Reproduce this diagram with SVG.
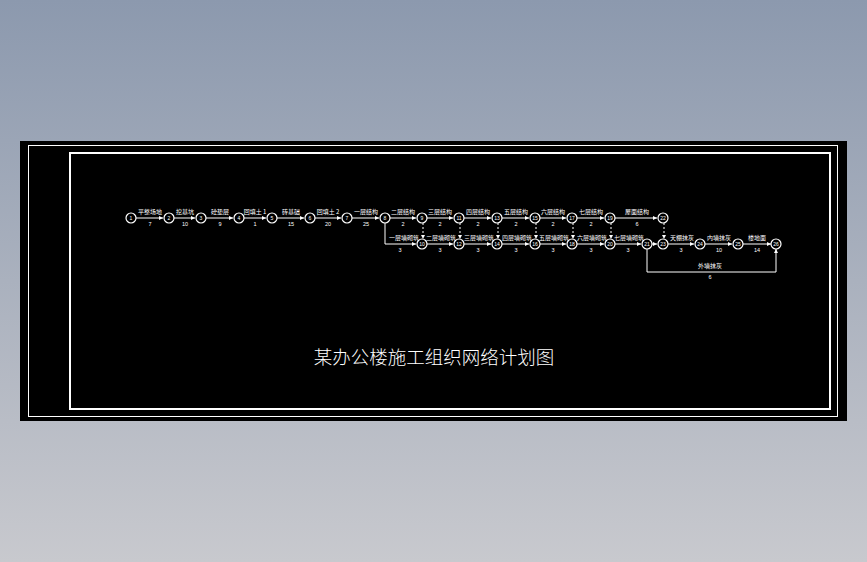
<svg xmlns="http://www.w3.org/2000/svg" width="867" height="562" viewBox="0 0 867 562">
<defs>
<linearGradient id="bg" x1="0" y1="0" x2="0" y2="1">
<stop offset="0" stop-color="#8c99ae"/>
<stop offset="1" stop-color="#c8c9ce"/>
</linearGradient>
<marker id="ar" viewBox="0 0 6 6" refX="6" refY="3" markerWidth="4" markerHeight="4" orient="auto" markerUnits="userSpaceOnUse">
<path d="M0,0 L6,3 L0,6 z" fill="#fff"/>
</marker>
<style>
.n circle{fill:#000;stroke:#fff;stroke-width:1.2}
.n text{fill:#fff;font-family:"Liberation Sans",sans-serif;font-size:5px;text-anchor:middle}
.c line,.c path{stroke:#fff;stroke-width:1;fill:none}
.c .d{stroke-dasharray:2,2}
.l{fill:#fff;font-family:"Noto Sans CJK SC",sans-serif;font-size:6px;text-anchor:middle}
.v{fill:#fff;font-family:"Liberation Sans",sans-serif;font-size:5.5px;text-anchor:middle}
</style>
</defs>
<rect width="867" height="562" fill="url(#bg)"/>
<rect x="20" y="141" width="827" height="280" fill="#000"/>
<rect x="28.5" y="145.5" width="809" height="271" fill="none" stroke="#fff" stroke-width="1"/>
<rect x="70" y="153" width="760" height="256" fill="none" stroke="#fff" stroke-width="2"/>
<text x="434" y="364" fill="#fff" font-family="Noto Sans CJK SC, sans-serif" font-size="18.5" font-weight="300" text-anchor="middle">某办公楼施工组织网络计划图</text>

<g id="connectors" class="c">
<line x1="136" y1="218" x2="163" y2="218" marker-end="url(#ar)"/>
<line x1="174" y1="218" x2="195" y2="218" marker-end="url(#ar)"/>
<line x1="206" y1="218" x2="233" y2="218" marker-end="url(#ar)"/>
<line x1="244" y1="218" x2="266" y2="218" marker-end="url(#ar)"/>
<line x1="277" y1="218" x2="304" y2="218" marker-end="url(#ar)"/>
<line x1="315" y1="218" x2="341" y2="218" marker-end="url(#ar)"/>
<line x1="352" y1="218" x2="379" y2="218" marker-end="url(#ar)"/>
<line x1="390" y1="218" x2="416" y2="218" marker-end="url(#ar)"/>
<line x1="427" y1="218" x2="453" y2="218" marker-end="url(#ar)"/>
<line x1="464" y1="218" x2="491" y2="218" marker-end="url(#ar)"/>
<line x1="502" y1="218" x2="529" y2="218" marker-end="url(#ar)"/>
<line x1="540" y1="218" x2="566" y2="218" marker-end="url(#ar)"/>
<line x1="577" y1="218" x2="604" y2="218" marker-end="url(#ar)"/>
<line x1="615" y1="218" x2="657" y2="218" marker-end="url(#ar)"/>
<path d="M385,223 V244 H416" marker-end="url(#ar)"/>
<line x1="427" y1="244" x2="453" y2="244" marker-end="url(#ar)"/>
<line x1="464" y1="244" x2="491" y2="244" marker-end="url(#ar)"/>
<line x1="502" y1="244" x2="529" y2="244" marker-end="url(#ar)"/>
<line x1="540" y1="244" x2="566" y2="244" marker-end="url(#ar)"/>
<line x1="577" y1="244" x2="604" y2="244" marker-end="url(#ar)"/>
<line x1="615" y1="244" x2="641" y2="244" marker-end="url(#ar)"/>
<line x1="652" y1="244" x2="657" y2="244" marker-end="url(#ar)"/>
<line x1="668" y1="244" x2="694" y2="244" marker-end="url(#ar)"/>
<line x1="705" y1="244" x2="732" y2="244" marker-end="url(#ar)"/>
<line x1="743" y1="244" x2="771" y2="244" marker-end="url(#ar)"/>
<path d="M647,249 V272 H776 V249" marker-end="url(#ar)"/>
<line class="d" x1="423" y1="223" x2="423" y2="239" marker-end="url(#ar)"/>
<line class="d" x1="460" y1="223" x2="460" y2="239" marker-end="url(#ar)"/>
<line class="d" x1="498" y1="223" x2="498" y2="239" marker-end="url(#ar)"/>
<line class="d" x1="536" y1="223" x2="536" y2="239" marker-end="url(#ar)"/>
<line class="d" x1="573" y1="223" x2="573" y2="239" marker-end="url(#ar)"/>
<line class="d" x1="611" y1="223" x2="611" y2="239" marker-end="url(#ar)"/>
<line class="d" x1="664" y1="223" x2="664" y2="239" marker-end="url(#ar)"/>
</g>

<g id="labels">
<text class="l" x="150" y="214">平整场地</text><text class="v" x="150" y="226">7</text>
<text class="l" x="185" y="214">挖基坑</text><text class="v" x="185" y="226">10</text>
<text class="l" x="220" y="214">砼垫层</text><text class="v" x="220" y="226">9</text>
<text class="l" x="255" y="214">回填土 1</text><text class="v" x="255" y="226">1</text>
<text class="l" x="291" y="214">砖基础</text><text class="v" x="291" y="226">15</text>
<text class="l" x="328" y="214">回填土 2</text><text class="v" x="328" y="226">20</text>
<text class="l" x="366" y="214">一层结构</text><text class="v" x="366" y="226">25</text>
<text class="l" x="403" y="214">二层结构</text><text class="v" x="403" y="226">2</text>
<text class="l" x="440" y="214">三层结构</text><text class="v" x="440" y="226">2</text>
<text class="l" x="478" y="214">四层结构</text><text class="v" x="478" y="226">2</text>
<text class="l" x="516" y="214">五层结构</text><text class="v" x="516" y="226">2</text>
<text class="l" x="553" y="214">六层结构</text><text class="v" x="553" y="226">2</text>
<text class="l" x="591" y="214">七层结构</text><text class="v" x="591" y="226">2</text>
<text class="l" x="637" y="214">屋面结构</text><text class="v" x="637" y="226">6</text>
<text class="l" x="404" y="240">一层墙砌筑</text><text class="v" x="400" y="252">3</text>
<text class="l" x="441" y="240">二层墙砌筑</text><text class="v" x="440" y="252">3</text>
<text class="l" x="479" y="240">三层墙砌筑</text><text class="v" x="478" y="252">3</text>
<text class="l" x="517" y="240">四层墙砌筑</text><text class="v" x="516" y="252">3</text>
<text class="l" x="554" y="240">五层墙砌筑</text><text class="v" x="553" y="252">3</text>
<text class="l" x="592" y="240">六层墙砌筑</text><text class="v" x="591" y="252">3</text>
<text class="l" x="629" y="240">七层墙砌筑</text><text class="v" x="628" y="252">3</text>
<text class="l" x="682" y="240">天棚抹灰</text><text class="v" x="681" y="252">3</text>
<text class="l" x="719" y="240">内墙抹灰</text><text class="v" x="719" y="252">10</text>
<text class="l" x="757" y="240">楼地面</text><text class="v" x="757" y="252">14</text>
<text class="l" x="710" y="268">外墙抹灰</text><text class="v" x="710" y="279">6</text>
</g>

<g id="n1" class="n"><circle cx="131" cy="218" r="5"/><text x="131" y="220">1</text></g>
<g id="n2" class="n"><circle cx="169" cy="218" r="5"/><text x="169" y="220">2</text></g>
<g id="n3" class="n"><circle cx="201" cy="218" r="5"/><text x="201" y="220">3</text></g>
<g id="n4" class="n"><circle cx="239" cy="218" r="5"/><text x="239" y="220">4</text></g>
<g id="n5" class="n"><circle cx="272" cy="218" r="5"/><text x="272" y="220">5</text></g>
<g id="n6" class="n"><circle cx="310" cy="218" r="5"/><text x="310" y="220">6</text></g>
<g id="n7" class="n"><circle cx="347" cy="218" r="5"/><text x="347" y="220">7</text></g>
<g id="n8" class="n"><circle cx="385" cy="218" r="5"/><text x="385" y="220">8</text></g>
<g id="n9" class="n"><circle cx="422" cy="218" r="5"/><text x="422" y="220">9</text></g>
<g id="n10" class="n"><circle cx="422" cy="244" r="5"/><text x="422" y="246">10</text></g>
<g id="n11" class="n"><circle cx="459" cy="218" r="5"/><text x="459" y="220">11</text></g>
<g id="n12" class="n"><circle cx="459" cy="244" r="5"/><text x="459" y="246">12</text></g>
<g id="n13" class="n"><circle cx="497" cy="218" r="5"/><text x="497" y="220">13</text></g>
<g id="n14" class="n"><circle cx="497" cy="244" r="5"/><text x="497" y="246">14</text></g>
<g id="n15" class="n"><circle cx="535" cy="218" r="5"/><text x="535" y="220">15</text></g>
<g id="n16" class="n"><circle cx="535" cy="244" r="5"/><text x="535" y="246">16</text></g>
<g id="n17" class="n"><circle cx="572" cy="218" r="5"/><text x="572" y="220">17</text></g>
<g id="n18" class="n"><circle cx="572" cy="244" r="5"/><text x="572" y="246">18</text></g>
<g id="n19" class="n"><circle cx="610" cy="218" r="5"/><text x="610" y="220">19</text></g>
<g id="n20" class="n"><circle cx="610" cy="244" r="5"/><text x="610" y="246">20</text></g>
<g id="n21" class="n"><circle cx="647" cy="244" r="5"/><text x="647" y="246">21</text></g>
<g id="n22" class="n"><circle cx="663" cy="218" r="5"/><text x="663" y="220">22</text></g>
<g id="n23" class="n"><circle cx="663" cy="244" r="5"/><text x="663" y="246">23</text></g>
<g id="n24" class="n"><circle cx="700" cy="244" r="5"/><text x="700" y="246">24</text></g>
<g id="n25" class="n"><circle cx="738" cy="244" r="5"/><text x="738" y="246">25</text></g>
<g id="n26" class="n"><circle cx="776" cy="244" r="5"/><text x="776" y="246">26</text></g>
</svg>
